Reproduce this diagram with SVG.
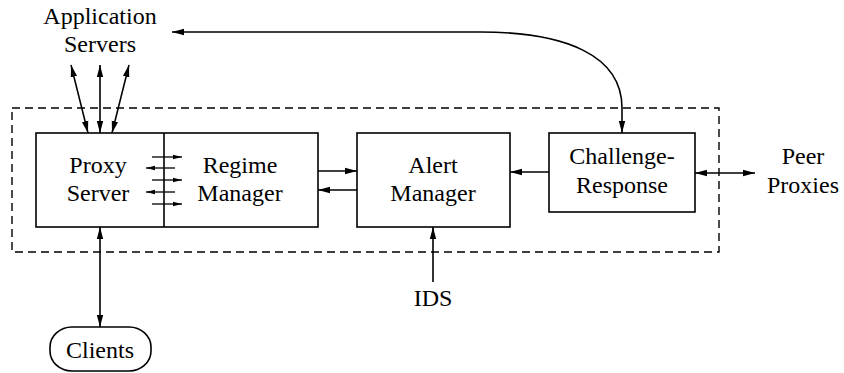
<svg xmlns="http://www.w3.org/2000/svg" width="844" height="373" viewBox="0 0 844 373">
<style>
text{font-family:"Liberation Serif","DejaVu Serif",serif;font-size:24px;fill:#000;text-anchor:middle}
.box{fill:#fff;stroke:#000;stroke-width:1.6}
.ln{fill:none;stroke:#000;stroke-width:1.6}
.sm{fill:none;stroke:#000;stroke-width:1.3}
</style>
<defs>
<marker id="ah" viewBox="0 0 12 8" refX="12" refY="4" markerWidth="12" markerHeight="8" markerUnits="userSpaceOnUse" orient="auto-start-reverse"><path d="M0,0.8 L12,4 L0,7.2 Z" fill="#000"/></marker>
<marker id="sh" viewBox="0 0 9 6" refX="9" refY="3" markerWidth="9" markerHeight="6" markerUnits="userSpaceOnUse" orient="auto"><path d="M0,0.8 L9,3 L0,5.2 Z" fill="#000"/></marker>
</defs>
<rect x="12" y="108" width="707" height="144" fill="none" stroke="#000" stroke-width="1.4" stroke-dasharray="8,5"/>
<g id="proxy-regime">
<rect class="box" x="36" y="133" width="282" height="94"/>
<line class="ln" x1="164" y1="133" x2="164" y2="227"/>
<text x="98" y="173">Proxy</text>
<text x="98" y="201">Server</text>
<text x="240" y="173">Regime</text>
<text x="240" y="201">Manager</text>
</g>
<g id="alert">
<rect class="box" x="357" y="133" width="153" height="94"/>
<text x="433" y="173">Alert</text>
<text x="433" y="201">Manager</text>
</g>
<g id="challenge">
<rect class="box" x="549" y="133" width="146" height="79"/>
<text x="622" y="164">Challenge-</text>
<text x="622" y="193">Response</text>
</g>
<g id="appservers">
<text x="100" y="24">Application</text>
<text x="100" y="52">Servers</text>
</g>
<g id="peer">
<text x="803" y="164">Peer</text>
<text x="803" y="193">Proxies</text>
</g>
<g id="clients">
<rect class="box" x="50" y="327" width="101" height="44" rx="22" ry="20"/>
<text x="100" y="358">Clients</text>
</g>
<g id="ids">
<text x="433" y="306">IDS</text>
</g>
<g id="connectors">
<line class="ln" x1="88" y1="133" x2="71" y2="65" marker-start="url(#ah)" marker-end="url(#ah)"/>
<line class="ln" x1="100" y1="133" x2="100" y2="65" marker-start="url(#ah)" marker-end="url(#ah)"/>
<line class="ln" x1="112" y1="133" x2="129" y2="65" marker-start="url(#ah)" marker-end="url(#ah)"/>
<line class="ln" x1="100" y1="227" x2="100" y2="327" marker-start="url(#ah)" marker-end="url(#ah)"/>
<line class="ln" x1="318" y1="171" x2="357" y2="171" marker-end="url(#ah)"/>
<line class="ln" x1="357" y1="190" x2="318" y2="190" marker-end="url(#ah)"/>
<line class="ln" x1="549" y1="172" x2="510" y2="172" marker-end="url(#ah)"/>
<line class="ln" x1="695" y1="173" x2="755" y2="173" marker-start="url(#ah)" marker-end="url(#ah)"/>
<line class="ln" x1="433" y1="282" x2="433" y2="227" marker-end="url(#ah)"/>
<path class="ln" d="M172 32 L480 32 C565 32 622 55 622 108 L622 133" marker-start="url(#ah)" marker-end="url(#ah)"/>
<line class="sm" x1="152" y1="157" x2="182" y2="157" marker-end="url(#sh)"/>
<line class="sm" x1="175" y1="168" x2="146" y2="168" marker-end="url(#sh)"/>
<line class="sm" x1="152" y1="180" x2="182" y2="180" marker-end="url(#sh)"/>
<line class="sm" x1="175" y1="192" x2="146" y2="192" marker-end="url(#sh)"/>
<line class="sm" x1="152" y1="204" x2="182" y2="204" marker-end="url(#sh)"/>
</g>
</svg>
